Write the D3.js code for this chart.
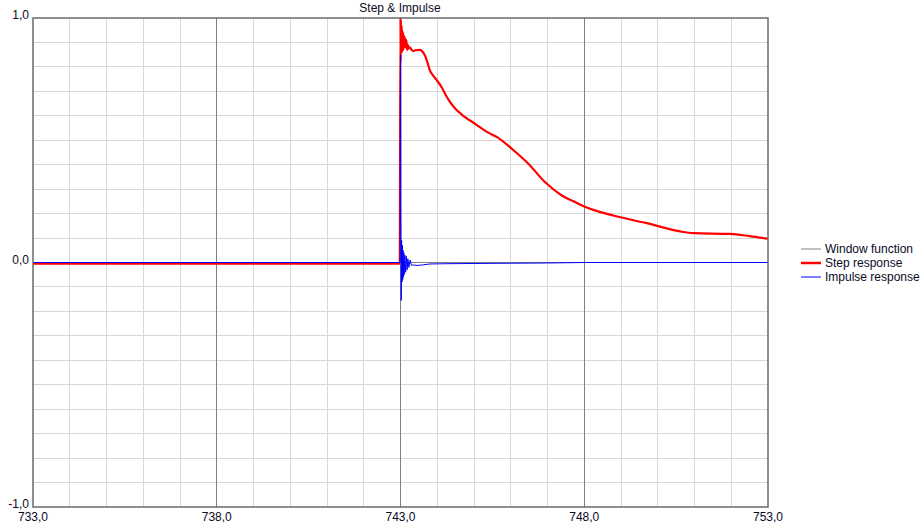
<!DOCTYPE html>
<html><head><meta charset="utf-8">
<script src="https://cdn.jsdelivr.net/npm/d3@7"></script>
<style>
body{margin:0;background:#fff;}
svg{display:block;}
text{font-family:"Liberation Sans",Arial,sans-serif;font-size:12px;fill:#0a0a1e;}
</style></head>
<body><div id="chart"></div>
<script>
const title = "Step & Impulse";
const xTicks = [733, 738, 743, 748, 753];
const yTicks = [-1, 0, 1];
const seriesNames = ["Window function", "Step response", "Impulse response"];
const seriesColors = ["#808080", "#ff0000", "#0000ff"];

const stepX = [733, 742.98, 743.0, 743.005, 743.01, 743.02, 743.03, 743.04, 743.05, 743.06, 743.07, 743.08, 743.09, 743.10, 743.12, 743.14, 743.16, 743.18, 743.20, 743.22, 743.25, 743.30, 743.35, 743.40, 743.53, 743.60, 743.67, 743.74, 743.80, 743.90, 743.99, 744.12, 744.25, 744.35, 744.50, 744.66, 745.03, 745.39, 745.66, 746.03, 746.48, 746.93, 747.39, 747.75, 748.0, 748.79, 749.70, 750.61, 750.97, 751.97, 752.5, 753.0];
const stepY = [-0.005, -0.005, 1.00, 0.82, 0.99, 0.87, 0.97, 0.86, 0.95, 0.88, 0.94, 0.87, 0.93, 0.88, 0.92, 0.88, 0.91, 0.87, 0.89, 0.875, 0.88, 0.87, 0.865, 0.868, 0.87, 0.862, 0.845, 0.815, 0.786, 0.762, 0.745, 0.717, 0.68, 0.656, 0.628, 0.606, 0.567, 0.531, 0.51, 0.465, 0.404, 0.329, 0.274, 0.247, 0.229, 0.192, 0.161, 0.127, 0.12, 0.117, 0.108, 0.097];

const impX = [733, 742.99, 743.0, 743.02, 743.03, 743.04, 743.05, 743.06, 743.07, 743.08, 743.09, 743.10, 743.12, 743.14, 743.16, 743.18, 743.20, 743.23, 743.26, 743.30, 743.35, 743.45, 743.60, 743.80, 744.20, 745.0, 746.0, 747.0, 748.0, 753.0];
const impY = [0, 0, 0.85, -0.155, 0.09, -0.08, 0.07, -0.07, 0.05, -0.06, 0.04, -0.05, 0.03, -0.04, 0.025, -0.03, 0.015, -0.02, 0.01, -0.012, -0.01, -0.012, -0.01, -0.006, -0.005, -0.004, -0.003, -0.002, 0, 0];

const W = 921, H = 526;
const L = 33, R = 768, T = 18, B = 507;
const svg = d3.select("#chart").append("svg").attr("width", W).attr("height", H);
const x = d3.scaleLinear().domain([733, 753]).range([L, R]);
const y = d3.scaleLinear().domain([-1, 1]).range([B, T]);

// minor grid
const g = svg.append("g");
g.selectAll(".vx").data(d3.range(734, 753, 1).filter(v => (v - 733) % 5 !== 0))
  .join("line").attr("x1", d => x(d)).attr("x2", d => x(d)).attr("y1", T).attr("y2", B)
  .attr("stroke", "#d8d8d8").attr("stroke-width", 1).attr("shape-rendering", "crispEdges");
g.selectAll(".hy").data(d3.range(-9, 10, 1).filter(v => v !== 0).map(v => v / 10))
  .join("line").attr("x1", L).attr("x2", R).attr("y1", d => y(d)).attr("y2", d => y(d))
  .attr("stroke", "#d8d8d8").attr("stroke-width", 1).attr("shape-rendering", "crispEdges");
// major grid
g.selectAll(".mx").data(xTicks.slice(1, -1))
  .join("line").attr("x1", d => x(d)).attr("x2", d => x(d)).attr("y1", T).attr("y2", B)
  .attr("stroke", "#808080").attr("stroke-width", 1).attr("shape-rendering", "crispEdges");
g.append("line").attr("x1", L).attr("x2", R).attr("y1", y(0)).attr("y2", y(0))
  .attr("stroke", "#808080").attr("stroke-width", 1).attr("shape-rendering", "crispEdges");

// series
const line = d3.line().x(d => x(d[0])).y(d => y(d[1])).curve(d3.curveMonotoneX);
const stepData = stepX.map((v, i) => [v, stepY[i]]);
const impData = impX.map((v, i) => [v, impY[i]]);
svg.append("path").datum(stepData).attr("d", line).attr("fill", "none")
  .attr("stroke", seriesColors[1]).attr("stroke-width", 2.2).attr("stroke-linejoin", "round");
svg.append("path").datum(impData).attr("d", d3.line().x(d => x(d[0])).y(d => y(d[1]))).attr("fill", "none")
  .attr("stroke", seriesColors[2]).attr("stroke-width", 1);

// border
svg.append("rect").attr("x", L).attr("y", T).attr("width", R - L).attr("height", B - T)
  .attr("fill", "none").attr("stroke", "#6a6a6a").attr("stroke-width", 1.5);

// tick labels
const fmt = d => d3.format(".1f")(d).replace(".", ",").replace("\u2212", "-");
svg.selectAll(".yt").data(yTicks).join("text")
  .attr("x", 29).attr("y", d => y(d)).attr("dy", "0.1em").attr("text-anchor", "end")
  .text(fmt);
svg.selectAll(".xt").data(xTicks).join("text")
  .attr("x", d => x(d)).attr("y", 521).attr("text-anchor", "middle")
  .text(fmt);

// title
svg.append("text").attr("x", 400).attr("y", 12).attr("text-anchor", "middle").text(title);

// legend
const lg = svg.append("g");
const ly = [249, 263, 277];
seriesNames.forEach((n, i) => {
  lg.append("line").attr("x1", 801).attr("x2", 821).attr("y1", ly[i]).attr("y2", ly[i])
    .attr("stroke", seriesColors[i]).attr("stroke-width", i === 1 ? 2.5 : 1);
  lg.append("text").attr("x", 825).attr("y", ly[i] + 4).text(n);
});
</script></body></html>
